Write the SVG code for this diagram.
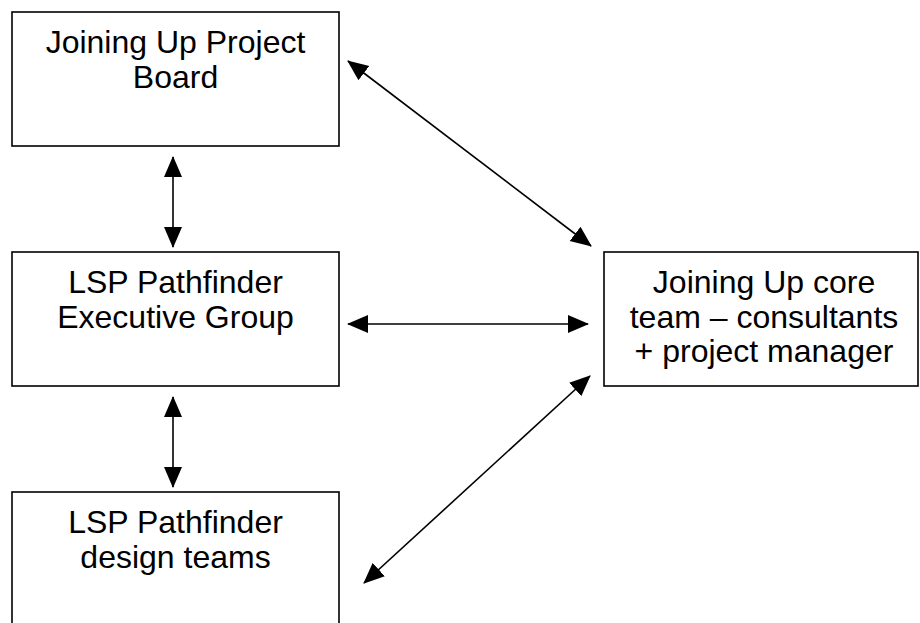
<svg xmlns="http://www.w3.org/2000/svg" width="920" height="623" viewBox="0 0 920 623">
<style>
.box{fill:#fff;stroke:#000;stroke-width:1.6}
.lbl{font-family:"Liberation Sans",Arial,sans-serif;font-size:32px;fill:#000;text-anchor:middle}
.con{stroke:#000;stroke-width:1.6;fill:none;marker-start:url(#ah);marker-end:url(#ah)}
</style>
<defs>
<marker id="ah" markerUnits="userSpaceOnUse" markerWidth="22" markerHeight="20" refX="20" refY="10" orient="auto-start-reverse" viewBox="0 0 22 20">
<path d="M0,1 L21,10 L0,19 z" fill="#000"/>
</marker>
</defs>
<rect width="920" height="623" fill="#fff"/>
<g id="board">
<rect class="box" x="12" y="12" width="327" height="134"/>
<text class="lbl" x="175.5" y="53">Joining Up Project</text>
<text class="lbl" x="175.5" y="88">Board</text>
</g>
<g id="exec">
<rect class="box" x="12" y="252" width="327" height="134"/>
<text class="lbl" x="175.5" y="293">LSP Pathfinder</text>
<text class="lbl" x="175.5" y="328">Executive Group</text>
</g>
<g id="design">
<rect class="box" x="12" y="492" width="327" height="140"/>
<text class="lbl" x="175.5" y="533">LSP Pathfinder</text>
<text class="lbl" x="175.5" y="568">design teams</text>
</g>
<g id="core">
<rect class="box" x="604" y="252" width="314" height="134"/>
<text class="lbl" x="764" y="293">Joining Up core</text>
<text class="lbl" x="764" y="328">team – consultants</text>
<text class="lbl" x="764" y="362">+ project manager</text>
</g>
<g id="connectors">
<line class="con" x1="173" y1="157" x2="173" y2="247"/>
<line class="con" x1="173" y1="397" x2="173" y2="487"/>
<line class="con" x1="348" y1="324" x2="588" y2="324"/>
<line class="con" x1="348" y1="61" x2="591" y2="246"/>
<line class="con" x1="364" y1="583" x2="590" y2="376"/>
</g>
</svg>
